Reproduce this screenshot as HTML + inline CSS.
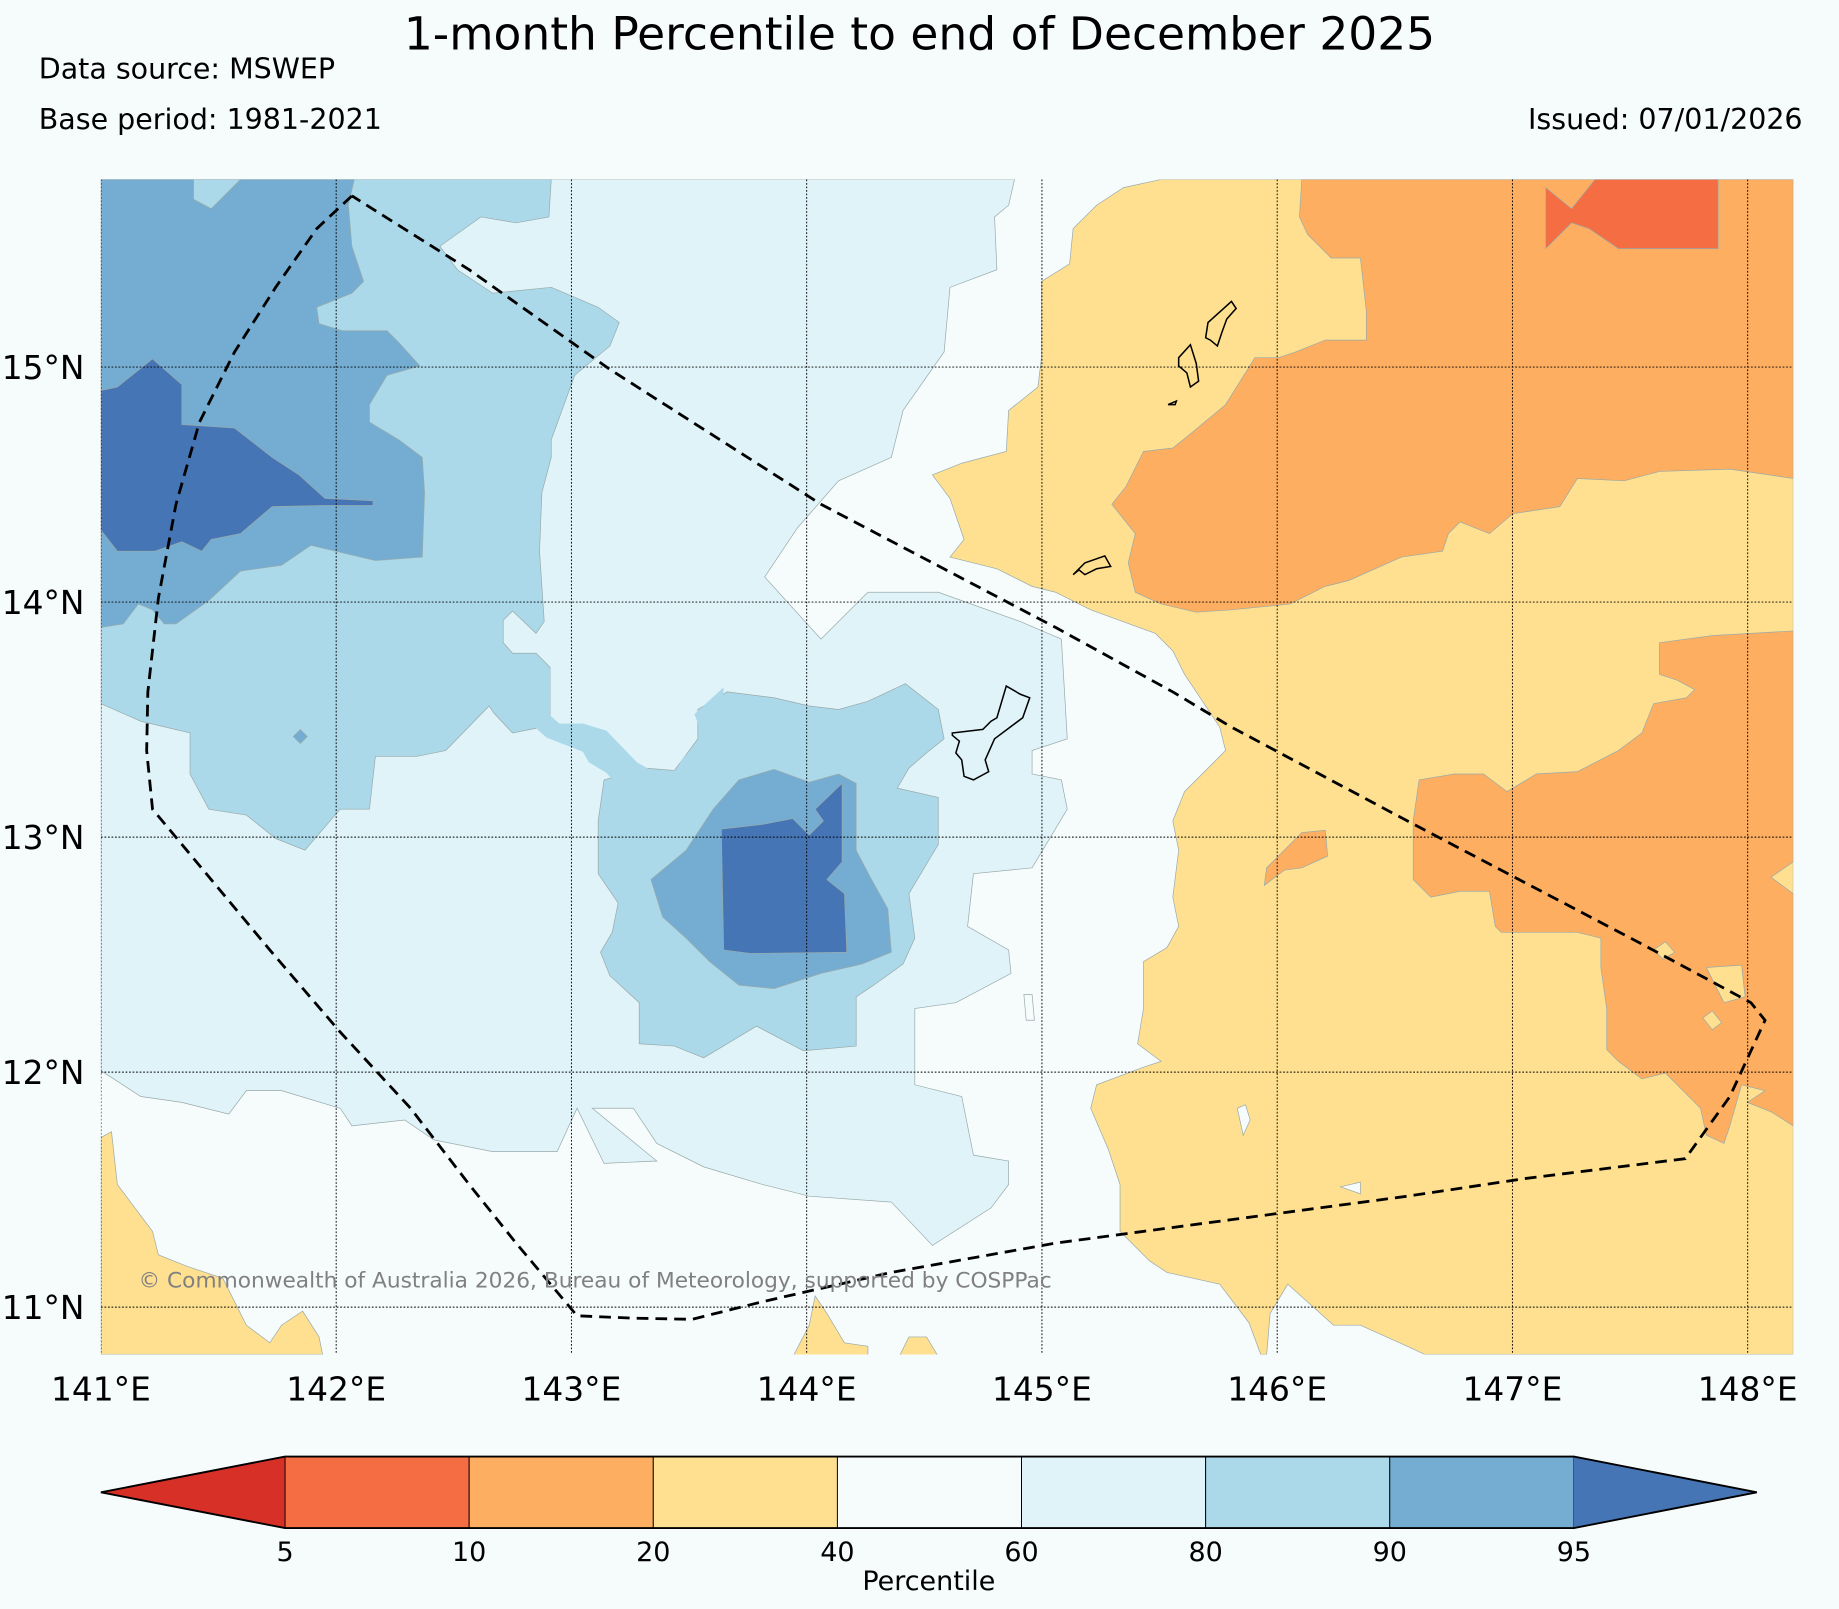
<!DOCTYPE html>
<html><head><meta charset="utf-8">
<style>
html,body{margin:0;padding:0;background:#f6fbfc;}
svg{display:block;font-family:"DejaVu Sans","Liberation Sans",sans-serif;}
</style></head>
<body>
<svg id="chart" width="1839" height="1609" viewBox="0 0 1568 1372" xmlns="http://www.w3.org/2000/svg">
<rect width="1568" height="1372" fill="#f6fbfc"/>
<text x="784" y="42" text-anchor="middle" font-size="38.8" fill="#000">1-month Percentile to end of December 2025</text>
<text x="33" y="67" font-size="24.3" fill="#000">Data source: MSWEP</text>
<text x="33" y="110" font-size="24.3" fill="#000">Base period: 1981-2021</text>
<text x="1537" y="110" text-anchor="end" font-size="24.3" fill="#000">Issued: 07/01/2026</text>
<defs><clipPath id="plotclip"><rect x="86" y="153" width="1443" height="1002"/></clipPath></defs>
<g id="map" clip-path="url(#plotclip)"></g>
<g id="axes"></g>
<g id="cbar"></g>
</svg>
<script>
// Colorbar data
const cbLevels = [5, 10, 20, 40, 60, 80, 90, 95];
const cbColors = ["#d73027","#f46d43","#fdae61","#fee090","#f6fbfc","#e0f3f8","#abd9e9","#74add1","#4575b4"];
const cbTitle = "Percentile";
// Axis tick data
const lonTicks = [141,142,143,144,145,146,147,148];
const latTicks = [11,12,13,14,15];
const lonLabels = ["141°E","142°E","143°E","144°E","145°E","146°E","147°E","148°E"];
const latLabels = ["11°N","12°N","13°N","14°N","15°N"];

// Contour regions traced in map-space (converted to lon/lat below)
const lightBlue60 = [[86,153],[865,153],[860,175],[848,185],[850,230],[810,245],[805,300],[770,350],[760,390],[715,410],[680,450],[652,492],[700,545],[740,505],[800,505],[870,530],[905,545],[910,630],[880,640],[880,660],[905,665],[910,690],[880,740],[830,745],[825,790],[860,810],[862,830],[815,855],[780,860],[780,925],[820,935],[830,985],[860,990],[860,1010],[845,1030],[795,1062],[760,1025],[690,1020],[650,1010],[600,995],[560,975],[540,945],[505,945],[560,990],[515,992],[492,945],[475,982],[420,982],[370,972],[345,955],[300,960],[290,945],[240,930],[210,930],[195,950],[155,940],[120,935],[86,913]];
const blue80NW = [[86,153],[470,153],[468,185],[440,190],[410,185],[375,210],[390,230],[420,250],[470,245],[510,262],[528,275],[520,295],[490,320],[470,375],[470,390],[462,420],[460,470],[464,530],[457,540],[437,521],[429,529],[429,548],[437,557],[457,557],[469,569],[469,610],[457,621],[437,625],[421,608],[417,602],[380,640],[355,645],[320,645],[315,690],[290,690],[260,725],[235,715],[210,695],[178,690],[162,660],[162,625],[120,615],[86,600]];
const blue80Link = [[469,569],[469,610],[477,617],[497,617],[517,623],[543,650],[557,658],[577,657],[581,648],[600,628],[592,609],[617,586],[610,700],[526,669],[517,659],[502,650],[497,641],[466,629],[457,621]];
const blue80SE = [[510,700],[515,665],[550,655],[575,657],[595,630],[595,605],[620,590],[660,595],[690,602],[715,605],[740,598],[772,583],[800,605],[805,630],[790,642],[775,655],[765,672],[800,680],[800,720],[775,762],[780,800],[770,822],[745,840],[730,850],[730,892],[685,896],[645,875],[600,902],[575,892],[545,890],[545,855],[520,832],[512,812],[522,795],[527,770],[510,745]];
const blue90NW = [[86,153],[165,153],[165,170],[180,178],[205,153],[302,153],[297,175],[300,210],[310,240],[300,250],[270,262],[272,276],[292,282],[330,282],[340,292],[358,312],[330,320],[315,345],[315,360],[340,375],[360,390],[362,420],[360,475],[320,478],[265,465],[240,482],[205,487],[178,512],[150,532],[140,532],[130,520],[118,515],[105,532],[86,535]];
const blue90SE = [[555,750],[585,725],[608,690],[630,665],[660,656],[690,667],[715,660],[730,668],[730,725],[742,748],[757,775],[760,812],[735,822],[700,830],[660,843],[630,840],[605,820],[585,800],[565,782]];
const blue95NW = [[86,333],[100,330],[130,306],[155,328],[155,362],[200,365],[232,390],[255,405],[277,425],[318,427],[318,431],[275,431],[232,432],[205,455],[180,460],[172,470],[155,462],[132,470],[100,470],[86,452]];
const blue95SE = [[615,707],[650,703],[676,698],[690,712],[702,700],[695,690],[718,668],[718,735],[705,750],[720,762],[722,812],[640,813],[617,810]];
const yellow20 = [[958,160],[990,153],[1529,153],[1529,1155],[1215,1155],[1200,1148],[1160,1130],[1137,1130],[1098,1095],[1083,1120],[1080,1155],[1075,1155],[1065,1128],[1040,1095],[995,1085],[980,1075],[955,1050],[955,1010],[945,980],[930,945],[935,925],[975,910],[990,905],[970,890],[975,860],[975,820],[995,808],[1005,790],[1000,765],[1005,725],[1000,700],[1010,675],[1045,640],[1040,620],[1010,575],[1000,555],[985,540],[930,520],[900,505],[880,500],[850,485],[810,475],[822,460],[810,425],[795,405],[820,395],[858,385],[860,350],[885,330],[888,305],[888,240],[912,225],[915,195],[935,175]];
const yellowSW = [[86,970],[95,965],[100,1010],[115,1030],[130,1050],[135,1070],[160,1080],[190,1090],[210,1130],[230,1145],[240,1130],[258,1118],[272,1140],[275,1155],[86,1155]];
const yellowB1 = [[677,1155],[690,1130],[695,1105],[705,1120],[720,1145],[740,1148],[740,1160],[677,1160]];
const yellowB2 = [[765,1160],[775,1140],[790,1140],[802,1160]];
const orange10N = [[1110,153],[1529,153],[1529,408],[1475,400],[1415,402],[1385,410],[1345,408],[1330,432],[1290,438],[1270,455],[1245,445],[1235,455],[1230,470],[1195,475],[1150,495],[1130,500],[1100,515],[1050,520],[1020,522],[990,515],[968,505],[962,480],[968,455],[948,430],[960,415],[975,385],[1000,382],[1015,370],[1045,345],[1070,305],[1090,305],[1105,300],[1130,290],[1165,290],[1165,265],[1160,220],[1135,220],[1115,200],[1108,185]];
const orange10SE = [[1415,548],[1460,542],[1529,538],[1529,735],[1510,748],[1529,762],[1529,960],[1510,948],[1490,940],[1505,930],[1485,925],[1475,960],[1470,975],[1455,968],[1450,945],[1440,935],[1420,915],[1400,920],[1380,905],[1370,895],[1370,860],[1365,825],[1365,800],[1345,795],[1310,795],[1280,795],[1275,790],[1270,760],[1245,760],[1220,765],[1205,750],[1205,700],[1210,665],[1240,660],[1265,660],[1285,675],[1310,660],[1345,658],[1380,640],[1400,625],[1410,600],[1438,595],[1445,588],[1430,580],[1415,575]];
const orange10Blob = [[1078,755],[1080,740],[1110,710],[1130,708],[1132,730],[1110,740],[1095,742]];
const yellowHoles = [[[1455,825],[1485,823],[1488,850],[1470,855]],[[1410,810],[1420,803],[1428,812],[1418,818]],[[1452,868],[1460,862],[1468,872],[1460,878]]];
const whiteHoles = [[[1055,945],[1062,942],[1066,955],[1060,968]],[[1143,1012],[1160,1008],[1160,1018]],[[873,848],[880,848],[882,870],[875,870]]];
const red5N = [[1318,160],[1340,178],[1360,153],[1465,153],[1465,212],[1380,212],[1355,195],[1340,190],[1318,212]];
const eezTrace = [[300,167],[270,195],[235,245],[200,300],[170,360],[150,430],[135,510],[126,590],[125,640],[130,690],[180,750],[230,810],[290,880],[350,945],[400,1010],[440,1060],[492,1122],[540,1124],[590,1125],[650,1110],[760,1085],[900,1060],[1050,1040],[1200,1020],[1300,1005],[1437,988],[1475,935],[1505,870],[1493,855],[1400,805],[1200,700],[1050,620],[1000,590],[900,535],[700,430],[520,315],[400,230],[300,167]];
const islands = [
 [[812,625],[838,622],[845,615],[850,612],[858,585],[870,592],[878,595],[872,612],[848,630],[840,648],[843,658],[830,665],[822,662],[820,648],[815,642],[818,632],[812,627]],
 [[1005,305],[1015,294],[1020,310],[1022,325],[1015,330],[1012,318],[1005,312]],
 [[1028,288],[1030,275],[1050,257],[1054,263],[1046,272],[1042,283],[1038,295],[1032,290]],
 [[915,490],[925,480],[942,474],[947,483],[935,485],[925,490],[920,486]],
 [[996,345],[1003,342],[1002,345]]
];

const X0=86, Y15=313, PXLON=200.6, PXLAT=200.4;
function toLL(p){return [141+(p[0]-X0)/PXLON, 15-(p[1]-Y15)/PXLAT];}
function xScale(lon){return X0+(lon-141)*PXLON;}
function yScale(lat){return Y15-(lat-15)*PXLAT;}
const NS="http://www.w3.org/2000/svg";
function mk(tag,attrs,parent){const e=document.createElementNS(NS,tag);for(const k in attrs)e.setAttribute(k,attrs[k]);parent.appendChild(e);return e;}
function ptsStr(arr){return arr.map(toLL).map(ll=>xScale(ll[0]).toFixed(1)+","+yScale(ll[1]).toFixed(1)).join(" ");}

const map=document.getElementById('map');
function poly(arr,fill,name,stroke){
  const p=mk('polygon',{points:ptsStr(arr),fill:fill,stroke:stroke||'#9aa',"stroke-width":0.6},map);
  
  
}
const bg=mk('rect',{x:86,y:153,width:1443,height:1002,fill:cbColors[4]},map);


poly(lightBlue60,cbColors[5],'region-60-80');
poly(blue80NW,cbColors[6],'region-80-90-northwest');
poly(blue80SE,cbColors[6],'region-80-90-southeast');
poly(blue80Link,cbColors[6],'region-80-90-link','none');
poly(blue90NW,cbColors[7],'region-90-95-northwest');
poly([[165,153],[205,153],[180,178],[165,170]],cbColors[6],'region-80-90-top-patch');
poly([[250,628],[256,622],[262,628],[256,634]],cbColors[7],'region-90-95-speck');
poly(blue90SE,cbColors[7],'region-90-95-southeast');
poly(blue95NW,cbColors[8],'region-above-95-northwest');
poly(blue95SE,cbColors[8],'region-above-95-southeast');
poly(yellow20,cbColors[3],'region-20-40-east');
poly(yellowSW,cbColors[3],'region-20-40-southwest');
poly(yellowB1,cbColors[3],'region-20-40-bottom-a');
poly(yellowB2,cbColors[3],'region-20-40-bottom-b');
poly(orange10N,cbColors[2],'region-10-20-north');
poly(orange10SE,cbColors[2],'region-10-20-southeast');
poly(orange10Blob,cbColors[2],'region-10-20-blob');
yellowHoles.forEach((h,i)=>poly(h,cbColors[3],'region-20-40-hole-'+i));
whiteHoles.forEach((h,i)=>poly(h,cbColors[4],'region-40-60-hole-'+i));
poly(red5N,cbColors[1],'region-5-10-north');

// gridlines
lonTicks.forEach(lon=>{const l=mk('line',{x1:xScale(lon),x2:xScale(lon),y1:153,y2:1155,stroke:'#000','stroke-width':0.8,'stroke-dasharray':'1.5,1.5'},map);

});
latTicks.forEach(lat=>{const l=mk('line',{x1:86,x2:1529,y1:yScale(lat),y2:yScale(lat),stroke:'#000','stroke-width':0.8,'stroke-dasharray':'1.5,1.5'},map);

});

// islands
islands.forEach((isl,i)=>{const p=mk('polygon',{points:ptsStr(isl),fill:'none',stroke:'#000','stroke-width':1.3},map);

});
// EEZ
const eez=mk('polyline',{points:ptsStr(eezTrace),fill:'none',stroke:'#000','stroke-width':2.4,'stroke-dasharray':'10,6'},map);


const cr=mk('text',{x:118,y:1098,'font-size':18.5,fill:'#808080'},map);
cr.textContent='© Commonwealth of Australia 2026, Bureau of Meteorology, supported by COSPPac';



// axes labels
const axes=document.getElementById('axes');
lonTicks.forEach((lon,i)=>{const t=mk('text',{x:xScale(lon),y:1194,'text-anchor':'middle','font-size':28,fill:'#000'},axes);t.textContent=lonLabels[i];

});
latTicks.forEach((lat,i)=>{const t=mk('text',{x:72,y:yScale(lat)+10,'text-anchor':'end','font-size':28,fill:'#000'},axes);t.textContent=latLabels[i];

});

// colorbar
const cb=document.getElementById('cbar');
const cbX0=243, cbW=157, cbY=1242, cbH=61, tipL=86, tipR=1498;
function cbx(i){return cbX0+i*cbW;}
const lt=mk('polygon',{points:`${tipL},${cbY+cbH/2} ${cbx(0)},${cbY} ${cbx(0)},${cbY+cbH}`,fill:cbColors[0]},cb);


for(let i=0;i<cbLevels.length-1;i++){
  const r=mk('rect',{x:cbx(i),y:cbY,width:cbW,height:cbH,fill:cbColors[i+1],stroke:'#000','stroke-width':0.8},cb);
  
  
}
const last=cbx(cbLevels.length-1);
const rt=mk('polygon',{points:`${last},${cbY} ${tipR},${cbY+cbH/2} ${last},${cbY+cbH}`,fill:cbColors[8]},cb);


const ol=mk('polygon',{points:`${tipL},${cbY+cbH/2} ${cbx(0)},${cbY} ${last},${cbY} ${tipR},${cbY+cbH/2} ${last},${cbY+cbH} ${cbx(0)},${cbY+cbH}`,fill:'none',stroke:'#000','stroke-width':1.6},cb);


cbLevels.forEach((v,i)=>{const t=mk('text',{x:cbx(i),y:1331,'text-anchor':'middle','font-size':23,fill:'#000'},cb);t.textContent=v;

});
const ct=mk('text',{x:792,y:1356,'text-anchor':'middle','font-size':23,fill:'#000'},cb);ct.textContent=cbTitle;


</script>
</body></html>
